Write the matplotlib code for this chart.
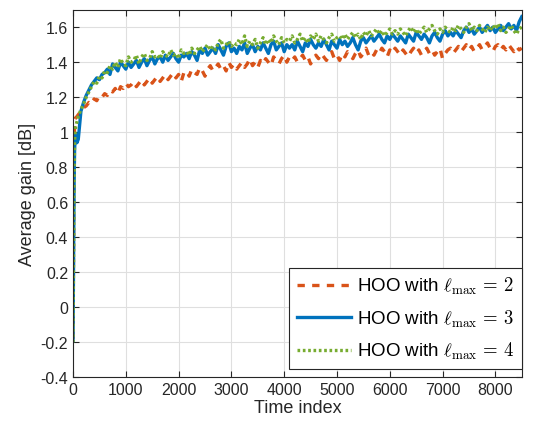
import numpy as np
import matplotlib
matplotlib.use("Agg")
import matplotlib.pyplot as plt
from matplotlib.ticker import FuncFormatter

plt.rcParams['font.family'] = ['Liberation Sans', 'DejaVu Sans']
plt.rcParams['mathtext.fontset'] = 'cm'

# time indices: early dense samples then every 50 steps
time_early = [0, 10, 20, 30, 40, 50, 75, 100]
time_main = list(range(150, 8501, 50))
time_index = time_early + time_main

gain_l2 = [-0.18, 0.40, 0.92, 1.04, 1.08, 1.08, 1.09, 1.10,
    1.12, 1.14, 1.15, 1.17, 1.16, 1.19, 1.18, 1.21, 1.20, 1.22,
    1.21, 1.24, 1.23, 1.25, 1.22, 1.26, 1.25, 1.28, 1.26, 1.27,
    1.29, 1.26, 1.28, 1.30, 1.27, 1.29, 1.31, 1.28, 1.30, 1.32,
    1.29, 1.31, 1.33, 1.30, 1.32, 1.34, 1.31, 1.33, 1.29, 1.34,
    1.35, 1.32, 1.36, 1.34, 1.33, 1.37, 1.35, 1.32, 1.36, 1.38,
    1.35, 1.37, 1.39, 1.36, 1.38, 1.35, 1.40, 1.37, 1.39, 1.36,
    1.38, 1.40, 1.37, 1.39, 1.42, 1.38, 1.40, 1.37, 1.41, 1.39,
    1.42, 1.40, 1.38, 1.43, 1.41, 1.39, 1.42, 1.44, 1.40, 1.43,
    1.41, 1.43, 1.40, 1.42, 1.44, 1.41, 1.43, 1.39, 1.42, 1.44,
    1.42, 1.45, 1.43, 1.41, 1.44, 1.46, 1.42, 1.44, 1.41, 1.45,
    1.43, 1.46, 1.44, 1.42, 1.45, 1.47, 1.43, 1.45, 1.48, 1.44,
    1.46, 1.44, 1.47, 1.45, 1.48, 1.46, 1.43, 1.47, 1.45, 1.48,
    1.46, 1.44, 1.47, 1.45, 1.43, 1.46, 1.48, 1.45, 1.47, 1.44,
    1.46, 1.48, 1.45, 1.47, 1.44, 1.46, 1.48, 1.42, 1.45, 1.47,
    1.48, 1.45, 1.47, 1.49, 1.46, 1.48, 1.50, 1.47, 1.49, 1.46,
    1.48, 1.50, 1.47, 1.49, 1.51, 1.48, 1.46, 1.49, 1.50, 1.47,
    1.49, 1.47, 1.50, 1.48, 1.46, 1.49, 1.47, 1.48]

gain_l3 = [-0.19, 0.25, 0.68, 0.90, 0.96, 0.99, 0.94, 0.96,
    1.12, 1.17, 1.21, 1.24, 1.27, 1.29, 1.31, 1.30, 1.33, 1.34,
    1.36, 1.33, 1.39, 1.37, 1.35, 1.40, 1.38, 1.36, 1.40, 1.37,
    1.39, 1.41, 1.37, 1.40, 1.42, 1.38, 1.41, 1.43, 1.39, 1.42,
    1.43, 1.40, 1.44, 1.41, 1.43, 1.45, 1.42, 1.40, 1.44, 1.43,
    1.45, 1.42, 1.46, 1.44, 1.41, 1.47, 1.45, 1.48, 1.44, 1.46,
    1.48, 1.45, 1.50, 1.47, 1.44, 1.49, 1.51, 1.46, 1.48, 1.45,
    1.49, 1.47, 1.51, 1.45, 1.48, 1.50, 1.46, 1.49, 1.47, 1.51,
    1.48, 1.45, 1.50, 1.52, 1.47, 1.49, 1.51, 1.46, 1.50, 1.48,
    1.50, 1.47, 1.52, 1.49, 1.46, 1.51, 1.49, 1.53, 1.50, 1.48,
    1.51, 1.49, 1.53, 1.50, 1.47, 1.52, 1.50, 1.48, 1.53, 1.50,
    1.52, 1.49, 1.51, 1.54, 1.50, 1.47, 1.52, 1.54, 1.51, 1.53,
    1.55, 1.52, 1.54, 1.56, 1.53, 1.51, 1.55, 1.53, 1.56, 1.54,
    1.52, 1.55, 1.53, 1.51, 1.56, 1.54, 1.52, 1.57, 1.55, 1.53,
    1.56, 1.54, 1.51, 1.55, 1.57, 1.54, 1.52, 1.56, 1.58, 1.55,
    1.57, 1.55, 1.58, 1.56, 1.54, 1.58, 1.60, 1.57, 1.59, 1.56,
    1.58, 1.60, 1.57, 1.59, 1.61, 1.58, 1.60, 1.57, 1.59, 1.61,
    1.58, 1.60, 1.62, 1.59, 1.61, 1.58, 1.63, 1.66]

gain_l4 = [-0.20, 0.30, 0.72, 0.95, 1.00, 1.03, 1.06, 1.09,
    1.13, 1.16, 1.20, 1.23, 1.26, 1.29, 1.28, 1.32, 1.31, 1.35,
    1.34, 1.38, 1.36, 1.40, 1.37, 1.42, 1.39, 1.38, 1.43, 1.40,
    1.41, 1.44, 1.39, 1.43, 1.45, 1.41, 1.42, 1.46, 1.43, 1.44,
    1.42, 1.46, 1.44, 1.43, 1.47, 1.44, 1.45, 1.42, 1.47, 1.45,
    1.46, 1.44, 1.48, 1.45, 1.47, 1.49, 1.46, 1.48, 1.50, 1.47,
    1.49, 1.47, 1.51, 1.53, 1.48, 1.50, 1.52, 1.49, 1.51, 1.50,
    1.53, 1.50, 1.55, 1.49, 1.52, 1.50, 1.53, 1.48, 1.51, 1.54,
    1.50, 1.53, 1.51, 1.55, 1.52, 1.50, 1.54, 1.51, 1.53, 1.52,
    1.55, 1.51, 1.53, 1.56, 1.52, 1.54, 1.51, 1.55, 1.53, 1.56,
    1.52, 1.55, 1.53, 1.51, 1.54, 1.56, 1.52, 1.54, 1.55, 1.53,
    1.56, 1.53, 1.55, 1.57, 1.54, 1.56, 1.53, 1.57, 1.55, 1.58,
    1.55, 1.57, 1.59, 1.56, 1.58, 1.55, 1.57, 1.59, 1.56, 1.58,
    1.56, 1.59, 1.57, 1.55, 1.58, 1.60, 1.57, 1.59, 1.56, 1.58,
    1.60, 1.57, 1.59, 1.61, 1.58, 1.56, 1.59, 1.57, 1.60, 1.58,
    1.57, 1.60, 1.58, 1.61, 1.59, 1.57, 1.60, 1.62, 1.58, 1.60,
    1.58, 1.61, 1.59, 1.57, 1.60, 1.58, 1.61, 1.59, 1.62, 1.58,
    1.60, 1.57, 1.59, 1.61, 1.58, 1.56, 1.59, 1.60]

labels = [r'HOO with $\ell_{\max}\,=\,2$',
          r'HOO with $\ell_{\max}\,=\,3$',
          r'HOO with $\ell_{\max}\,=\,4$']
x_ticks = [0, 1000, 2000, 3000, 4000, 5000, 6000, 7000, 8000]
y_ticks = [-0.4, -0.2, 0, 0.2, 0.4, 0.6, 0.8, 1.0, 1.2, 1.4, 1.6]

fig = plt.figure(figsize=(5.42, 4.31), dpi=100)
ax = fig.add_axes([0.1347, 0.1223, 0.828, 0.853])

ax.plot(time_index, gain_l2, color='#D95319', lw=2.4, ls=(0, (2.2, 2.2)), label=labels[0])
ax.plot(time_index, gain_l3, color='#0072BD', lw=2.4, ls='-', label=labels[1])
ax.plot(time_index, gain_l4, color='#77AC30', lw=2.4, ls=(0, (0.8, 0.8)), label=labels[2])

ax.set_xlim(0, 8500)
ax.set_ylim(-0.4, 1.7)
ax.set_xticks(x_ticks)
ax.set_yticks(y_ticks)
ax.yaxis.set_major_formatter(FuncFormatter(lambda v, p: ('%g' % round(v, 2))))
ax.grid(True, color='#DFDFDF', lw=0.8)
ax.set_axisbelow(True)
for s in ax.spines.values():
    s.set_color('#262626')
    s.set_linewidth(0.8)
ax.tick_params(direction='in', top=True, right=True, length=4, width=0.8,
               colors='#262626', labelsize=11.5, labelcolor='#262626')
ax.set_xlabel('Time index', fontsize=13, color='#262626', labelpad=1)
ax.set_ylabel('Average gain [dB]', fontsize=13, color='#262626', labelpad=3)

leg = ax.legend(loc='lower right', bbox_to_anchor=(1.0, 0.023), fontsize=13.5,
                frameon=True, fancybox=False, edgecolor='#262626', framealpha=1,
                borderaxespad=0.0, handlelength=2.9, handletextpad=0.3,
                labelspacing=0.6, borderpad=0.4)
leg.get_frame().set_linewidth(0.8)

fig.savefig('out.png', dpi=100)
